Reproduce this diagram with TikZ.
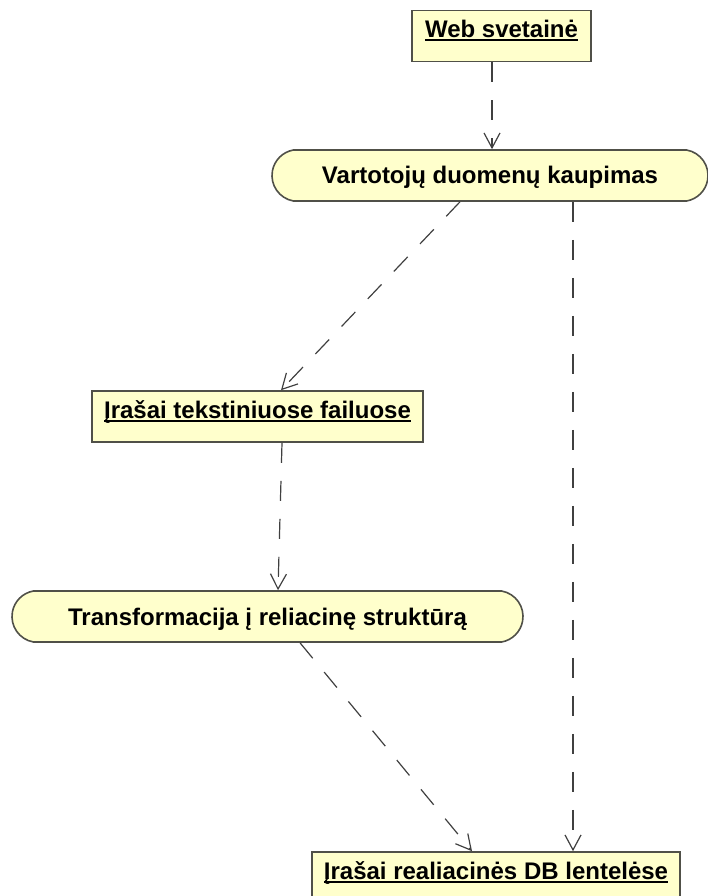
\documentclass[tikz,border=0pt]{standalone}
\usepackage{fontspec}
\setmainfont{Liberation Sans}
\usepackage{xcolor}
\usepackage{tikz}
\usetikzlibrary{shapes.misc, arrows.meta}
\definecolor{umlfill}{HTML}{FFFFCC}
\definecolor{umlline}{HTML}{505048}
\definecolor{flowline}{HTML}{404040}
\newcommand{\objname}[1]{\setbox0\hbox{#1}\rlap{\rule[-3.5pt]{\wd0}{2pt}}\box0}

\begin{document}
\begin{tikzpicture}[x=1pt, y=-1pt,
            object/.style={draw=umlline, fill=umlfill, line width=1.6pt,
                            inner sep=0pt, minimum height=51pt,
                            text height=17pt, text depth=14pt},
            action/.style={draw=umlline, fill=umlfill, line width=1.6pt,
                            rounded rectangle, rounded rectangle arc length=160,
                            inner sep=0pt, minimum height=51pt,
                            text height=17pt, text depth=0pt},
            flow/.style={draw=flowline, line width=1.2pt,
                            dash pattern=on 20pt off 18pt,
                            -{Straight Barb[length=15pt,width=16pt]}},
            every node/.style={font=\fontsize{24}{28}\selectfont\bfseries},
        ]
            \useasboundingbox (0,0) rectangle (707,896);
            \node[object, minimum width=179pt] (web)       at (501.5,36)  {\objname{Web svetainė}};
            \node[action, minimum width=436pt] (collect)   at (490,175.5) {Vartotojų duomenų kaupimas};
            \node[object, minimum width=331pt] (files)     at (257.5,416.5) {\objname{Įrašai tekstiniuose failuose}};
            \node[action, minimum width=511pt] (transform) at (267.5,616.5) {Transformacija į reliacinę struktūrą};
            \node[object, minimum width=368pt] (dbtables)  at (496,877.5) {\objname{Įrašai realiacinės DB lentelėse}};
            \draw[flow] ([xshift=-9.5pt]web.south) -- ([xshift=2pt]collect.north);
            \draw[flow] ([xshift=-30pt]collect.south) -- ([xshift=23.5pt]files.north);
            \draw[flow] ([xshift=83pt]collect.south) -- ([xshift=77pt]dbtables.north);
            \draw[flow] ([xshift=24.5pt]files.south) -- ([xshift=10.5pt]transform.north);
            \draw[flow] ([xshift=32.5pt]transform.south) -- ([xshift=-24pt]dbtables.north);
        \end{tikzpicture}
\end{document}
